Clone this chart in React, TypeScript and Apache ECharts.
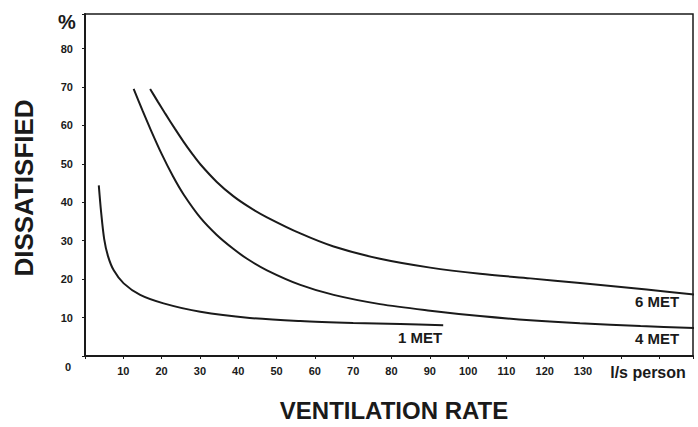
import React, { useEffect, useRef } from "react";
import * as echarts from "echarts";

const met1X = [3.6, 4.2, 5, 6, 7.5, 10.1, 14.4, 20.5, 30.1, 43, 56.2, 70, 82.3, 93.5];
const met1Y = [44.4, 37.5, 30.5, 26, 22.3, 18.9, 15.9, 13.7, 11.5, 9.9, 9.1, 8.6, 8.3, 8.0];

const met4X = [12.7, 15, 17.1, 20, 23, 25.7, 30.1, 34.4, 38.7, 42.3, 47.5, 56.2, 64.9, 77, 90.1, 103.1, 116.2, 129.2, 145, 159];
const met4Y = [69.5, 63.9, 59.0, 52.6, 46.7, 42.1, 36.0, 31.5, 27.9, 25.3, 22.3, 18.5, 15.9, 13.5, 11.8, 10.4, 9.3, 8.5, 7.8, 7.3];

const met6X = [17, 19, 21, 23.5, 25.7, 28, 30.1, 34.4, 38.7, 43.1, 47.5, 56.2, 64.9, 77, 90.1, 103.1, 116.2, 129.2, 146.6, 159];
const met6Y = [69.5, 66.2, 63, 59.1, 55.8, 52.6, 49.9, 45.3, 41.6, 38.6, 36.1, 31.9, 28.5, 25.3, 23.0, 21.4, 20.2, 19.0, 17.3, 16.0];

const seriesNames = ["1 MET", "4 MET", "6 MET"];
const xTickLabels = [10, 20, 30, 40, 50, 60, 70, 80, 90, 100, 110, 120, 130];
const yTickLabels = [10, 20, 30, 40, 50, 60, 70, 80];

const ink = "#1a1a1a";
const font = "'Liberation Sans', Arial, sans-serif";

function pairs(xs: number[], ys: number[]) {
  return xs.map((x, i) => [x, ys[i]]);
}

export default function App() {
  const ref = useRef<HTMLDivElement>(null);
  useEffect(() => {
    if (!ref.current) return;
    const chart = echarts.init(ref.current, null, { renderer: "svg" });
    const lineStyle = { color: ink, width: 2 };
    const common = { type: "line", smooth: 0.3, showSymbol: false, lineStyle };
    chart.setOption({
      animation: false,
      backgroundColor: "#ffffff",
      grid: {
        left: 85,
        right: 5,
        top: 14,
        bottom: 71,
        show: true,
        borderColor: ink,
        borderWidth: 1.5,
        backgroundColor: "transparent",
      },
      xAxis: {
        type: "value",
        min: 0,
        max: 158.7,
        interval: 10,
        axisLine: { show: true, lineStyle: { color: ink, width: 2 } },
        axisTick: { show: true, length: 3, lineStyle: { color: ink } },
        splitLine: { show: false },
        axisLabel: {
          margin: 9,
          color: ink,
          fontFamily: font,
          fontWeight: "bold",
          fontSize: 11,
          formatter: (v: number) => (xTickLabels.includes(v) ? String(v) : ""),
        },
      },
      yAxis: {
        type: "value",
        min: 0,
        max: 89,
        interval: 10,
        axisLine: { show: true, lineStyle: { color: ink, width: 2 } },
        axisTick: { show: true, length: 3, lineStyle: { color: ink } },
        splitLine: { show: false },
        axisLabel: {
          margin: 12,
          color: ink,
          fontFamily: font,
          fontWeight: "bold",
          fontSize: 11,
          formatter: (v: number) => (yTickLabels.includes(v) ? String(v) : ""),
        },
      },
      series: [
        { ...common, name: seriesNames[0], data: pairs(met1X, met1Y) },
        { ...common, name: seriesNames[1], data: pairs(met4X, met4Y) },
        { ...common, name: seriesNames[2], data: pairs(met6X, met6Y) },
      ],
      graphic: [
        { type: "text", x: 67, y: 22, style: { text: "%", font: `bold 20px ${font}`, fill: ink, align: "center", verticalAlign: "middle" } },
        { type: "text", x: 68, y: 367, style: { text: "0", font: `bold 11px ${font}`, fill: ink, align: "center", verticalAlign: "middle" } },
        {
          type: "text", x: 24, y: 188, rotation: Math.PI / 2,
          style: { text: "DISSATISFIED", font: `bold 26px ${font}`, fill: ink, align: "center", verticalAlign: "middle" },
        },
        { type: "text", x: 394, y: 410, style: { text: "VENTILATION RATE", font: `bold 24px ${font}`, fill: ink, align: "center", verticalAlign: "middle" } },
        { type: "text", x: 648, y: 372, style: { text: "l/s person", font: `bold 16px ${font}`, fill: ink, align: "center", verticalAlign: "middle" } },
        { type: "text", x: 420, y: 337, style: { text: seriesNames[0], font: `bold 15px ${font}`, fill: ink, align: "center", verticalAlign: "middle" } },
        { type: "text", x: 657, y: 338, style: { text: seriesNames[1], font: `bold 15px ${font}`, fill: ink, align: "center", verticalAlign: "middle" } },
        { type: "text", x: 657, y: 301, style: { text: seriesNames[2], font: `bold 15px ${font}`, fill: ink, align: "center", verticalAlign: "middle" } },
      ],
    });
    return () => chart.dispose();
  }, []);
  return <div ref={ref} style={{ position: "fixed", left: 0, top: 0, width: 698, height: 427 }} />;
}
